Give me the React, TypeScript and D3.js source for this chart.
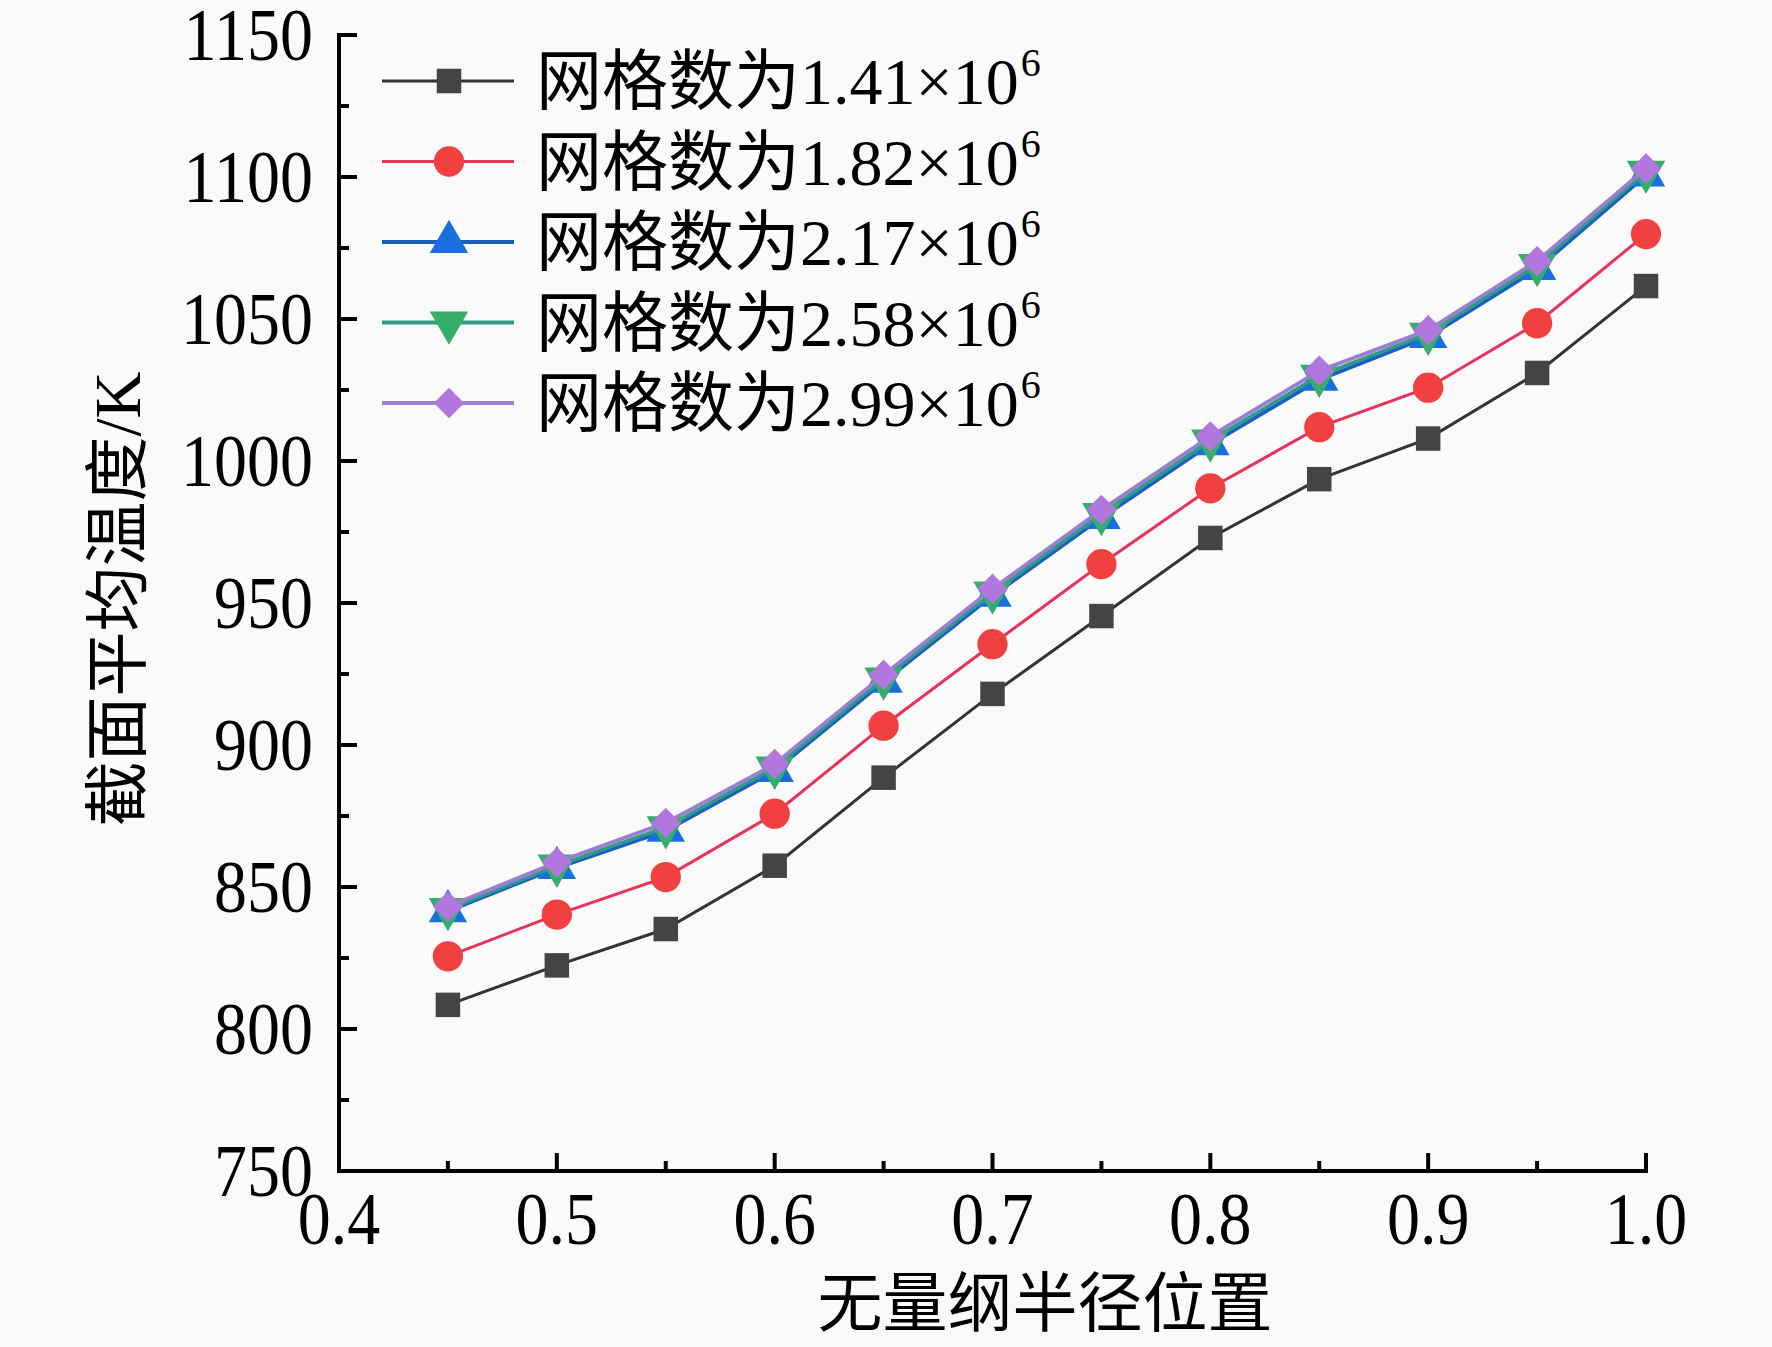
import React, { useEffect, useRef } from 'react';
import * as d3 from 'd3';

const positions = [0.45, 0.5, 0.55, 0.6, 0.65, 0.7, 0.75, 0.8, 0.85, 0.9, 0.95, 1.0];

const grid141 = [808.5, 822.4, 835.2, 857.5, 888.5, 918.0, 945.4, 972.9, 993.6, 1007.9, 1031.0, 1061.6];
const grid182 = [825.6, 840.3, 853.5, 875.8, 906.8, 935.5, 963.7, 990.4, 1011.9, 1025.8, 1048.5, 1079.9];
const grid217 = [841.5, 856.7, 869.8, 890.9, 922.3, 952.6, 980.0, 1005.9, 1028.6, 1043.7, 1067.6, 1100.6];
const grid258 = [842.2, 857.5, 871.0, 892.0, 923.4, 953.7, 981.3, 1007.2, 1030.0, 1044.8, 1069.0, 1101.8];
const grid299 = [843.1, 858.7, 872.6, 893.3, 924.7, 955.0, 982.8, 1008.7, 1031.8, 1046.1, 1070.4, 1103.0];

const seriesNames = ['1.41', '1.82', '2.17', '2.58', '2.99'];
const seriesColors = ['#444444', '#f14040', '#1a6fdf', '#37ad6b', '#b177de'];
const lineColors = ['#333333', '#e8325a', '#1a5fc0', '#2f9a8a', '#9a7fd0'];
const seriesSymbols = [d3.symbolSquare, d3.symbolCircle, d3.symbolTriangle, d3.symbolTriangle, d3.symbolSquare];
const symbolSizes = [600, 720, 640, 640, 460];
const symbolRotate = [0, 0, 0, 180, 45];

const yTicks = [750, 800, 850, 900, 950, 1000, 1050, 1100, 1150];
const xTicks = [0.4, 0.5, 0.6, 0.7, 0.8, 0.9, 1.0];

const serif = '"Liberation Serif", "Times New Roman", "Noto Sans CJK SC", serif';

export default function App() {
  const ref = useRef<SVGSVGElement | null>(null);

  useEffect(() => {
    const svg = d3.select(ref.current);
    svg.selectAll('*').remove();

    const width = 1772;
    const height = 1347;
    const left = 339, right = 1646, top = 35, bottom = 1171;

    svg.append('rect').attr('width', width).attr('height', height).attr('fill', '#fafafa');

    const x = d3.scaleLinear().domain([0.4, 1.0]).range([left, right]);
    const y = d3.scaleLinear().domain([750, 1150]).range([bottom, top]);

    const data = [grid141, grid182, grid217, grid258, grid299];

    // lines + markers
    data.forEach((vals, i) => {
      const pts = positions.map((p, j) => [p, vals[j]] as [number, number]);
      const line = d3.line<[number, number]>().x(d => x(d[0])).y(d => y(d[1]));
      svg.append('path')
        .datum(pts)
        .attr('d', line)
        .attr('fill', 'none')
        .attr('stroke', lineColors[i])
        .attr('stroke-width', i >= 2 ? 3.8 : 3);

      const sym = d3.symbol().type(seriesSymbols[i]).size(symbolSizes[i]);
      svg.append('g')
        .selectAll('path')
        .data(pts)
        .join('path')
        .attr('d', sym)
        .attr('transform', d => `translate(${x(d[0])},${y(d[1])}) rotate(${symbolRotate[i]})`)
        .attr('fill', seriesColors[i]);
    });

    // y axis
    const yAxis = svg.append('g').attr('transform', `translate(${left},0)`);
    yAxis.append('line').attr('x1', 0).attr('x2', 0).attr('y1', top - 2).attr('y2', bottom + 2)
      .attr('stroke', '#000').attr('stroke-width', 4);
    yAxis.selectAll('line.major')
      .data(yTicks)
      .join('line')
      .attr('class', 'major')
      .attr('x1', 0).attr('x2', 18)
      .attr('y1', d => y(d)).attr('y2', d => y(d))
      .attr('stroke', '#000').attr('stroke-width', 4);
    yAxis.selectAll('line.minor')
      .data(d3.range(775, 1150, 50))
      .join('line')
      .attr('class', 'minor')
      .attr('x1', 0).attr('x2', 10)
      .attr('y1', d => y(d)).attr('y2', d => y(d))
      .attr('stroke', '#000').attr('stroke-width', 4);
    yAxis.selectAll('text')
      .data(yTicks)
      .join('text')
      .attr('transform', d => `translate(-26,${y(d) + 25}) scale(1,1.12)`)
      .attr('text-anchor', 'end')
      .attr('font-family', serif)
      .attr('font-size', 66)
      .text(d => d);

    // x axis
    const xAxis = svg.append('g').attr('transform', `translate(0,${bottom})`);
    xAxis.append('line').attr('x1', left - 2).attr('x2', right + 2).attr('y1', 0).attr('y2', 0)
      .attr('stroke', '#000').attr('stroke-width', 4);
    xAxis.selectAll('line.major')
      .data(xTicks)
      .join('line')
      .attr('class', 'major')
      .attr('y1', 0).attr('y2', -18)
      .attr('x1', d => x(d)).attr('x2', d => x(d))
      .attr('stroke', '#000').attr('stroke-width', 4);
    xAxis.selectAll('line.minor')
      .data(d3.range(0.45, 1.0, 0.1))
      .join('line')
      .attr('class', 'minor')
      .attr('y1', 0).attr('y2', -10)
      .attr('x1', d => x(d)).attr('x2', d => x(d))
      .attr('stroke', '#000').attr('stroke-width', 4);
    xAxis.selectAll('text')
      .data(xTicks)
      .join('text')
      .attr('transform', d => `translate(${x(d)},73) scale(1,1.12)`)
      .attr('text-anchor', 'middle')
      .attr('font-family', serif)
      .attr('font-size', 66)
      .text(d => d3.format('.1f')(d));

    // axis titles
    svg.append('text')
      .attr('x', 1045)
      .attr('y', 1326)
      .attr('text-anchor', 'middle')
      .attr('font-family', serif)
      .attr('font-size', 65)
      .text('无量纲半径位置');

    svg.append('text')
      .attr('transform', `translate(140,599) rotate(-90)`)
      .attr('text-anchor', 'middle')
      .attr('font-family', serif)
      .attr('font-size', 65)
      .text('截面平均温度/K');

    // legend
    const legend = svg.append('g');
    seriesNames.forEach((name, i) => {
      const ly = 81 + i * 80.5;
      legend.append('line')
        .attr('x1', 382).attr('x2', 514)
        .attr('y1', ly).attr('y2', ly)
        .attr('stroke', lineColors[i])
        .attr('stroke-width', i >= 2 ? 3.8 : 3);
      legend.append('path')
        .attr('d', d3.symbol().type(seriesSymbols[i]).size(symbolSizes[i])())
        .attr('transform', `translate(449,${ly}) rotate(${symbolRotate[i]})`)
        .attr('fill', seriesColors[i]);
      const t = legend.append('text')
        .attr('x', 536)
        .attr('y', ly + 23)
        .attr('font-family', serif)
        .attr('font-size', 66);
      t.append('tspan').text(`网格数为${name}×10`);
      t.append('tspan').attr('dy', -28).attr('dx', 2).attr('font-size', 40).text('6');
    });
  }, []);

  return (
    <svg
      ref={ref}
      width={1772}
      height={1347}
      style={{ position: 'absolute', left: 0, top: 0, display: 'block' }}
    />
  );
}
